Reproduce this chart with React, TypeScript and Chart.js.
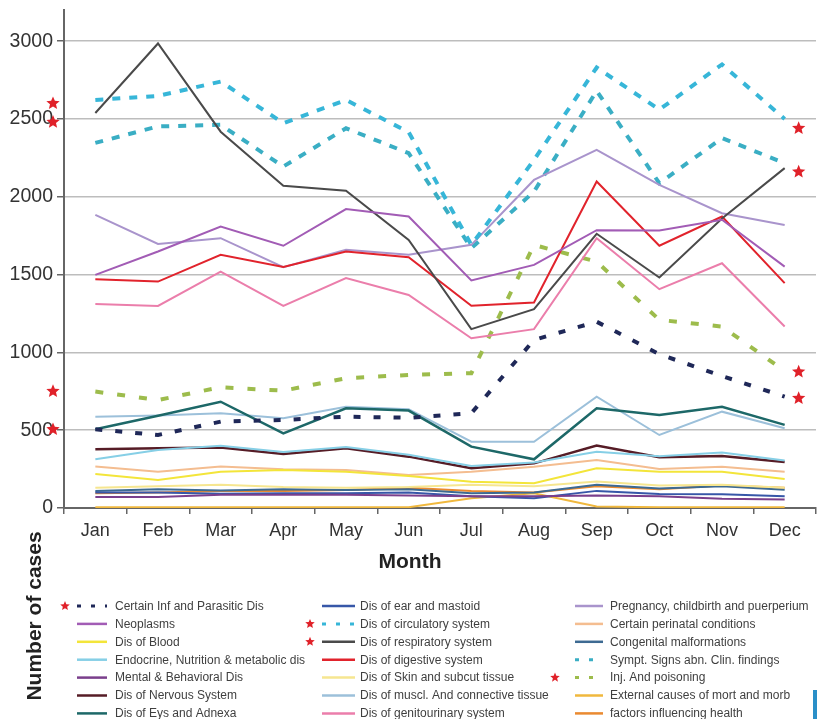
import React, { useEffect, useRef } from "react";
import { Chart, registerables } from "chart.js";

Chart.register(...registerables);

const months = ["Jan", "Feb", "Mar", "Apr", "May", "Jun", "Jul", "Aug", "Sep", "Oct", "Nov", "Dec"];
const yTickValues = [0, 500, 1000, 1500, 2000, 2500, 3000];

const certainInf = [506, 469, 555, 566, 587, 580, 609, 1080, 1197, 988, 848, 716];
const neoplasms = [1498, 1648, 1809, 1685, 1921, 1873, 1462, 1562, 1785, 1783, 1852, 1551];
const disBlood = [218, 180, 233, 244, 233, 206, 169, 159, 255, 233, 233, 186];
const endocrine = [313, 373, 400, 360, 392, 342, 270, 292, 362, 332, 356, 305];
const mental = [70, 70, 85, 85, 85, 80, 75, 75, 80, 75, 60, 55];
const nervous = [377, 384, 388, 347, 384, 330, 255, 287, 401, 326, 334, 296];
const eye = [506, 593, 683, 480, 641, 626, 394, 313, 641, 598, 651, 534];
const ear = [100, 100, 92, 95, 95, 100, 75, 62, 110, 90, 88, 75];
const circulatory = [2622, 2648, 2740, 2473, 2622, 2415, 1690, 2237, 2830, 2560, 2850, 2500];
const respiratory = [2538, 2985, 2418, 2070, 2038, 1723, 1149, 1278, 1762, 1481, 1860, 2184];
const digestive = [1470, 1455, 1627, 1548, 1648, 1612, 1299, 1320, 2098, 1685, 1873, 1445];
const skin = [130, 140, 150, 135, 130, 135, 150, 140, 170, 145, 150, 130];
const muscl = [587, 594, 609, 577, 650, 635, 426, 426, 715, 469, 619, 512];
const genito = [1311, 1298, 1519, 1298, 1477, 1369, 1091, 1149, 1734, 1406, 1573, 1166];
const pregnancy = [1884, 1697, 1734, 1548, 1659, 1627, 1691, 2108, 2301, 2076, 1894, 1819];
const perinatal = [266, 233, 266, 249, 244, 212, 233, 265, 308, 250, 265, 233];
const congenital = [110, 120, 112, 120, 115, 120, 95, 100, 150, 125, 140, 118];
const sympt = [2346, 2452, 2462, 2194, 2440, 2280, 1670, 2033, 2680, 2087, 2377, 2216];
const injury = [748, 694, 776, 754, 834, 855, 866, 1690, 1583, 1209, 1166, 880];
const external = [5, 5, 5, 5, 5, 5, 62, 94, 9, 5, 5, 5];
const factors = [95, 100, 110, 110, 115, 130, 110, 100, 140, 120, 145, 130];

const leftStars = [2600, 2480, 750, 505];
const rightStars = [2440, 2160, 875, 705];

const FONT = "'Liberation Sans', Arial, Helvetica, sans-serif";

type Entry = { label: string; data: number[]; color: string; dash?: number[]; width?: number; star?: boolean };

const entries: Entry[] = [
  { label: "Certain Inf and Parasitic Dis", data: certainInf, color: "#1f2858", dash: [7, 13], width: 4, star: true },
  { label: "Neoplasms", data: neoplasms, color: "#a25cb5" },
  { label: "Dis of Blood", data: disBlood, color: "#f3e53a" },
  { label: "Endocrine, Nutrition & metabolic dis", data: endocrine, color: "#86cfe6" },
  { label: "Mental & Behavioral Dis", data: mental, color: "#7a3f8c" },
  { label: "Dis of Nervous System", data: nervous, color: "#561c26", width: 2.5 },
  { label: "Dis of Eys and Adnexa", data: eye, color: "#1d6868", width: 2.5 },
  { label: "Dis of ear and mastoid", data: ear, color: "#3757a8" },
  { label: "Dis of circulatory system", data: circulatory, color: "#37b6d8", dash: [8, 9], width: 4, star: true },
  { label: "Dis of respiratory system", data: respiratory, color: "#4a4a4a", star: true },
  { label: "Dis of digestive system", data: digestive, color: "#e1232c" },
  { label: "Dis of Skin and subcut tissue", data: skin, color: "#f6e690" },
  { label: "Dis of muscl. And connective tissue", data: muscl, color: "#9cc0da" },
  { label: "Dis of genitourinary system", data: genito, color: "#eb7eab" },
  { label: "Pregnancy, childbirth and puerperium", data: pregnancy, color: "#a994cc" },
  { label: "Certain perinatal conditions", data: perinatal, color: "#f4bd90" },
  { label: "Congenital malformations", data: congenital, color: "#3d6a92" },
  { label: "Sympt. Signs abn. Clin. findings", data: sympt, color: "#3aaec4", dash: [8, 9], width: 4 },
  { label: "Inj. And poisoning", data: injury, color: "#9dbc4c", dash: [8, 14], width: 4, star: true },
  { label: "External causes of mort and morb", data: external, color: "#f0b83e" },
  { label: "factors influencing health", data: factors, color: "#ea8a30" },
];

function drawStar(ctx: CanvasRenderingContext2D, cx: number, cy: number, r: number) {
  ctx.beginPath();
  for (let i = 0; i < 10; i++) {
    const rad = i % 2 === 0 ? r : r * 0.45;
    const a = -Math.PI / 2 + (i * Math.PI) / 5;
    const x = cx + rad * Math.cos(a);
    const y = cy + rad * Math.sin(a);
    if (i === 0) ctx.moveTo(x, y);
    else ctx.lineTo(x, y);
  }
  ctx.closePath();
  ctx.fillStyle = "#e02129";
  ctx.fill();
}

const overlayPlugin = {
  id: "overlay",
  afterDraw(chart: any) {
    const ctx: CanvasRenderingContext2D = chart.ctx;
    const xs = chart.scales.x;
    const ys = chart.scales.y;
    ctx.save();
    const lx = xs.left - 11;
    const rx = xs.getPixelForValue(months.length - 1) + 14;
    leftStars.forEach((v) => drawStar(ctx, lx, ys.getPixelForValue(v), 7));
    rightStars.forEach((v) => drawStar(ctx, rx, ys.getPixelForValue(v), 7));

    ctx.fillStyle = "#222";
    ctx.font = `bold 21px ${FONT}`;
    ctx.textAlign = "center";
    ctx.textBaseline = "middle";
    ctx.fillText("Month", (xs.left + xs.right) / 2 - 30, 562);
    ctx.save();
    ctx.translate(35, 616);
    ctx.rotate(-Math.PI / 2);
    ctx.fillText("Number of cases", 0, 0);
    ctx.restore();

    const cols = [
      { star: 65, l0: 77, l1: 107, tx: 115 },
      { star: 310, l0: 322, l1: 355, tx: 360 },
      { star: 555, l0: 575, l1: 603, tx: 610 },
    ];
    ctx.font = `12px ${FONT}`;
    ctx.textAlign = "left";
    entries.forEach((e, i) => {
      const c = cols[Math.floor(i / 7)];
      const y = 606 + (i % 7) * 17.9;
      ctx.save();
      ctx.strokeStyle = e.color;
      if (e.dash) {
        ctx.lineWidth = 3;
        ctx.setLineDash([4, 10]);
      } else {
        ctx.lineWidth = 2.5;
      }
      ctx.beginPath();
      ctx.moveTo(c.l0, y);
      ctx.lineTo(c.l1, y);
      ctx.stroke();
      ctx.restore();
      if (e.star) drawStar(ctx, c.star, y, 5);
      ctx.fillStyle = "#3f3f3f";
      ctx.fillText(e.label, c.tx, y + 0.5);
    });

    ctx.fillStyle = "#2a8fc8";
    ctx.fillRect(813, 690, 4, 29);
    ctx.restore();
  },
};

export default function App() {
  const ref = useRef<HTMLCanvasElement | null>(null);
  useEffect(() => {
    if (!ref.current) return;
    const chart = new Chart(ref.current, {
      type: "line",
      data: {
        labels: months,
        datasets: entries.map((e) => ({
          label: e.label,
          data: e.data,
          borderColor: e.color,
          backgroundColor: e.color,
          borderWidth: e.width ?? 2,
          borderDash: e.dash ?? [],
          pointRadius: 0,
          tension: 0,
          fill: false,
        })),
      },
      options: {
        responsive: false,
        devicePixelRatio: 1,
        animation: false,
        layout: { padding: { top: 10, right: 4, left: 0, bottom: 0 } },
        plugins: { legend: { display: false }, tooltip: { enabled: false } },
        scales: {
          x: {
            type: "category",
            offset: true,
            grid: { offset: true, drawOnChartArea: false, drawTicks: true, tickLength: 6, color: "#666", lineWidth: 1.5 },
            border: { display: true, color: "#666", width: 2 },
            ticks: { font: { family: FONT, size: 18 }, color: "#333", padding: 6, maxRotation: 0, autoSkip: false },
            afterFit: (s: any) => {
              s.height = 211;
              s.paddingLeft = 0;
              s.paddingRight = 0;
            },
          },
          y: {
            min: 0,
            max: 3200,
            afterBuildTicks: (s: any) => {
              s.ticks = yTickValues.map((v) => ({ value: v }));
            },
            grid: { color: "#bdbdbd", lineWidth: 1.5, tickColor: "#666", tickLength: 7, drawTicks: true },
            border: { display: true, color: "#666", width: 2 },
            ticks: {
              font: { family: FONT, size: 19.5 },
              color: "#333",
              padding: 4,
              callback: (v: any) => String(v),
            },
            afterFit: (s: any) => {
              s.width = 64;
              s.paddingTop = 0;
              s.paddingBottom = 0;
            },
          },
        },
      },
      plugins: [overlayPlugin],
    } as any);
    return () => chart.destroy();
  }, []);
  return (
    <div style={{ position: "absolute", left: 0, top: 0, width: 820, height: 719, background: "#fff" }}>
      <canvas ref={ref} width={820} height={719} style={{ display: "block" }} />
    </div>
  );
}
